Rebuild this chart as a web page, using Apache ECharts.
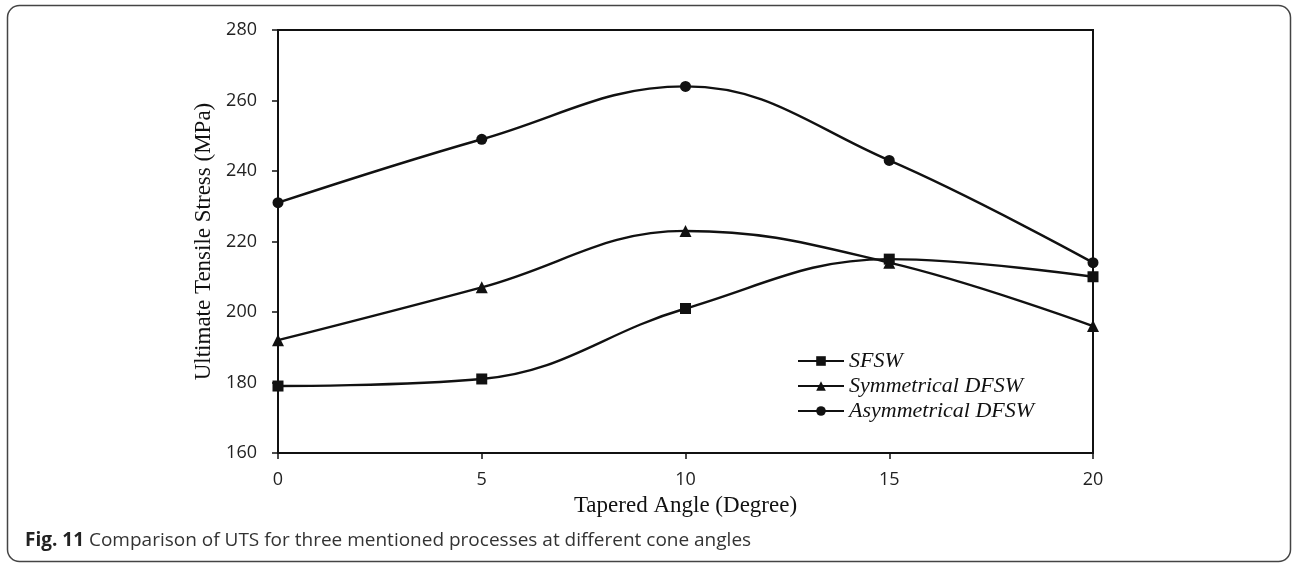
<!DOCTYPE html>
<html>
<head>
<meta charset="utf-8">
<script src="https://cdn.jsdelivr.net/npm/echarts@6/dist/echarts.min.js"></script>
<style>html,body{margin:0;padding:0;background:#fff;}#c{width:1293px;height:564px;}</style>
</head>
<body>
<div id="c"></div>
<script>
const angles = [0, 5, 10, 15, 20];
const sfsw = [179, 181, 201, 215, 210];
const symDfsw = [192, 207, 223, 214, 196];
const asymDfsw = [231, 249, 264, 243, 214];
const seriesNames = ['SFSW', 'Symmetrical DFSW', 'Asymmetrical DFSW'];
const yTicks = [160, 180, 200, 220, 240, 260, 280];
const caption = 'Comparison of UTS for three mentioned processes at different cone angles';

const chart = echarts.init(document.getElementById('c'));
function pairs(v){ return angles.map((a,i)=>[a, v[i]]); }
function mkSeries(name, vals, sym, size){
  return {
    name: name, type: 'line', data: pairs(vals), smooth: 0.4,
    symbol: sym, symbolSize: size, showSymbol: true,
    lineStyle: {color: '#111', width: 2.4},
    itemStyle: {color: '#111'},
    emphasis: {disabled: true}, z: 3
  };
}
chart.setOption({
  animation: false,
  backgroundColor: '#fff',
  grid: {left: 278, top: 30, right: 200, bottom: 111, show: true, borderColor: '#111', borderWidth: 2},
  legend: {
    orient: 'vertical', left: 797, top: 350, padding: 0, itemGap: 3, itemWidth: 46, itemHeight: 12,
    data: seriesNames,
    textStyle: {fontFamily: 'Liberation Serif', fontStyle: 'italic', fontSize: 22, color: '#111'}
  },
  xAxis: {
    type: 'value', min: 0, max: 20, interval: 5,
    name: 'Tapered Angle (Degree)', nameLocation: 'middle', nameGap: 41,
    nameTextStyle: {fontFamily: 'Liberation Serif', fontSize: 23, color: '#111'},
    axisLine: {lineStyle: {color: '#111', width: 2}},
    axisTick: {show: true, length: 6, lineStyle: {color: '#111', width: 1.5}},
    axisLabel: {fontFamily: 'Open Sans', fontSize: 18, color: '#222', margin: 18},
    splitLine: {show: false}
  },
  yAxis: {
    type: 'value', min: 160, max: 280, interval: 20,
    name: 'Ultimate Tensile Stress (MPa)', nameLocation: 'middle', nameGap: 61,
    nameTextStyle: {fontFamily: 'Liberation Serif', fontSize: 23, color: '#111'},
    axisLine: {show: true, lineStyle: {color: '#111', width: 2}},
    axisTick: {show: true, length: 6, lineStyle: {color: '#111', width: 1.5}},
    axisLabel: {fontFamily: 'Open Sans', fontSize: 18, color: '#222', margin: 21,
      formatter: v => yTicks.includes(v) ? String(v) : ''},
    splitLine: {show: false}
  },
  series: [
    mkSeries(seriesNames[0], sfsw, 'rect', 11),
    mkSeries(seriesNames[1], symDfsw, 'triangle', 12),
    mkSeries(seriesNames[2], asymDfsw, 'circle', 11)
  ],
  graphic: [
    {type: 'rect', shape: {x: 7.5, y: 5.5, width: 1283, height: 556, r: 12}, style: {fill: 'none', stroke: '#444', lineWidth: 1.5}, silent: true, z: -1},
    {type: 'text', left: 25, top: 531, style: {
      text: '{b|Fig. 11} ' + caption,
      rich: {b: {fontFamily: 'Open Sans', fontWeight: 'bold', fontSize: 19, fill: '#222'}},
      fontFamily: 'Open Sans', fontSize: 19, fill: '#333'}}
  ]
});
</script>
</body>
</html>
